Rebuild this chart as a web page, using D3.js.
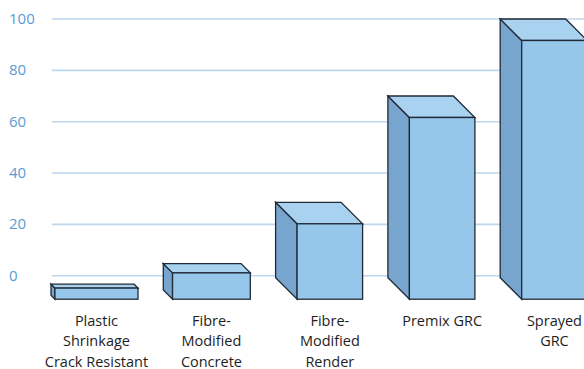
<!DOCTYPE html>
<html>
<head>
<meta charset="utf-8">
<script src="https://cdn.jsdelivr.net/npm/d3@7"></script>
<style>
  html, body { margin: 0; padding: 0; background: #fff; }
  svg { display: block; }
  text { font-family: "Open Sans", Lato, sans-serif; }
</style>
</head>
<body>
<svg id="chart" width="584" height="369"></svg>
<script>
// Chart data
const categories = [
  ["Plastic", "Shrinkage", "Crack Resistant"],
  ["Fibre-", "Modified", "Concrete"],
  ["Fibre-", "Modified", "Render"],
  ["Premix GRC"],
  ["Sprayed", "GRC"]
];
const values = [-3.3, 4.7, 28.6, 70, 100];
const tickValues = [0, 20, 40, 60, 80, 100];

const W = 584, H = 369;
const svg = d3.select("#chart");

// Back-wall value scale
const y = d3.scaleLinear().domain([0, 100]).range([275.7, 19]);

// Each band is the full footprint of a box (front face + visible depth)
const x = d3.scaleBand()
  .domain(d3.range(categories.length))
  .range([38.35, 599.85])
  .paddingInner(0.2253)
  .paddingOuter(0.1127);

const floorY = y(0) + 23.5;   // front bottom edge of every box
const maxDepth = 21.5;

// Gridlines on the back wall
svg.append("g")
  .selectAll("line")
  .data(tickValues)
  .join("line")
  .attr("x1", 51.7)
  .attr("x2", W)
  .attr("y1", d => y(d))
  .attr("y2", d => y(d))
  .attr("stroke", "#bdd7ee")
  .attr("stroke-width", 1.6);

// Value axis labels
const yAxis = d3.axisLeft(y).tickValues(tickValues).tickSize(0).tickPadding(0);
const ga = svg.append("g").attr("transform", "translate(9,0)").call(yAxis);
ga.select(".domain").remove();
ga.selectAll("text")
  .attr("text-anchor", "start")
  .attr("x", 0)
  .attr("dy", "0.3em")
  .attr("fill", "#5b9bd5")
  .attr("font-size", 15)
  .style("font-family", "'Open Sans', Lato, sans-serif");

// 3D boxes
const boxes = values.map((v, i) => {
  const yTop = y(v);
  const d = Math.min(maxDepth, 0.26 * (floorY - yTop));
  const left = x(i);
  const fx0 = left + d;
  const fx1 = left + x.bandwidth();
  return { i, yTop, d, left, fx0, fx1 };
});

const stroke = "#1f2a36";
const g = svg.append("g").attr("stroke", stroke).attr("stroke-width", 1.3).attr("stroke-linejoin", "miter");

boxes.forEach(b => {
  // left side face
  g.append("polygon")
    .attr("points", [
      [b.left, b.yTop], [b.fx0, b.yTop + b.d], [b.fx0, floorY], [b.left, floorY - b.d]
    ].join(" "))
    .attr("fill", "#78a5ce");
  // top face
  g.append("polygon")
    .attr("points", [
      [b.left, b.yTop], [b.fx1 - b.d, b.yTop], [b.fx1, b.yTop + b.d], [b.fx0, b.yTop + b.d]
    ].join(" "))
    .attr("fill", "#a9d2f1");
  // front face
  g.append("rect")
    .attr("x", b.fx0)
    .attr("y", b.yTop + b.d)
    .attr("width", b.fx1 - b.fx0)
    .attr("height", floorY - (b.yTop + b.d))
    .attr("fill", "#97c6eb");
});

// Category labels, centred under the front face
const lab = svg.append("g");
boxes.forEach(b => {
  const cx = (b.fx0 + b.fx1) / 2;
  const t = lab.append("text")
    .attr("x", cx)
    .attr("y", 325.5)
    .attr("text-anchor", "middle")
    .attr("font-size", 14.5)
    .attr("fill", "#1e1e1e");
  categories[b.i].forEach((line, k) => {
    t.append("tspan").attr("x", cx).attr("y", 325.5 + k * 20.8).text(line);
  });
});
</script>
</body>
</html>
